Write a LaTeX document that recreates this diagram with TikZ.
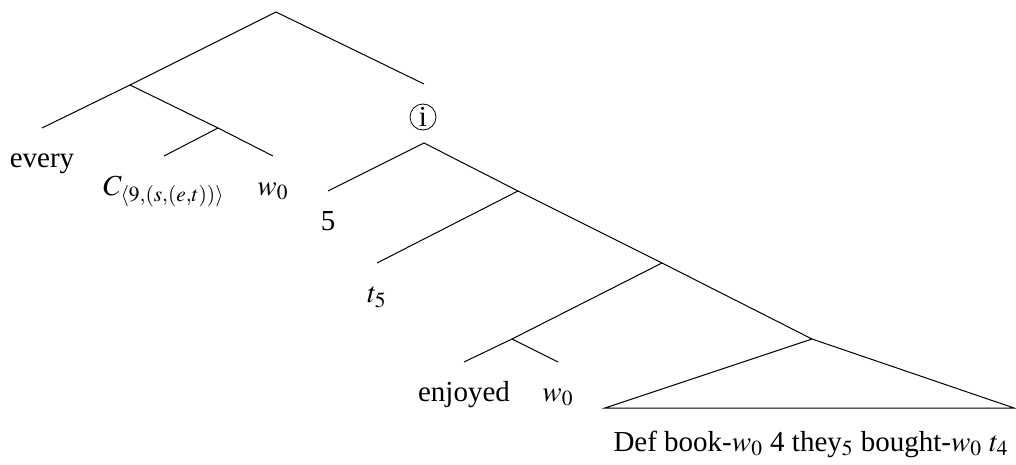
\documentclass[tikz,border=0pt]{standalone}
\usepackage{mathptmx}
\usepackage{fontspec}
\setmainfont{Liberation Serif}
\usetikzlibrary{calc}

\begin{document}
\begin{tikzpicture}[x=0.5pt, y=-0.5pt, font=\fontsize{14.5}{17}\selectfont,
    leaf/.style={anchor=north, inner xsep=0pt, inner ysep=9.3pt, text height=10.2pt, text depth=4pt},
    edge/.style={line width=0.5pt}]
    \useasboundingbox (0,0) rectangle (1016,465);

    \coordinate (root) at (276,12);
    \coordinate (n1) at (130,85);
    \coordinate (n2) at (218,128);
    \coordinate (ia) at (424,84);
    \coordinate (ib) at (424,143);
    \coordinate (n3) at (518,191);
    \coordinate (n4) at (662,263);
    \coordinate (n5) at (812,339);
    \coordinate (n6) at (512,339);
    \coordinate (tl) at (605,408);
    \coordinate (tr) at (1014,408);

    \node[leaf] (every) at (42,128) {every};
    \node[leaf] (C) at (164,156) {$C_{\langle 9,(s,(e,t))\rangle}$};
    \node[leaf] (w1) at (273,156) {$w_0$};
    \node[leaf] (five) at (328,191) {5};
    \node[leaf] (t5) at (377,263) {$t_5$};
    \node[leaf] (enjoyed) at (464,362) {enjoyed};
    \node[leaf] (w2) at (558,362) {$w_0$};
    \node[draw, circle, inner sep=0pt, minimum size=13pt] (circ) at (423,117) {i};
    \node[anchor=base] (def) at (811,451) {Def book-$w_0$ 4 they$_5$ bought-$w_0$ $t_4$};

    \draw[edge] (every.north) -- (n1) -- (root) -- (ia);
    \draw[edge] (n1) -- (n2) -- (w1.north);
    \draw[edge] (n2) -- (C.north);
    \draw[edge] (five.north) -- (ib) -- (n3) -- (n4) -- (n5);
    \draw[edge] (n3) -- (t5.north);
    \draw[edge] (n4) -- (n6) -- (enjoyed.north);
    \draw[edge] (n6) -- (w2.north);
    \draw[edge] (n5) -- (tl) -- (tr) -- cycle;
\end{tikzpicture}
\end{document}
